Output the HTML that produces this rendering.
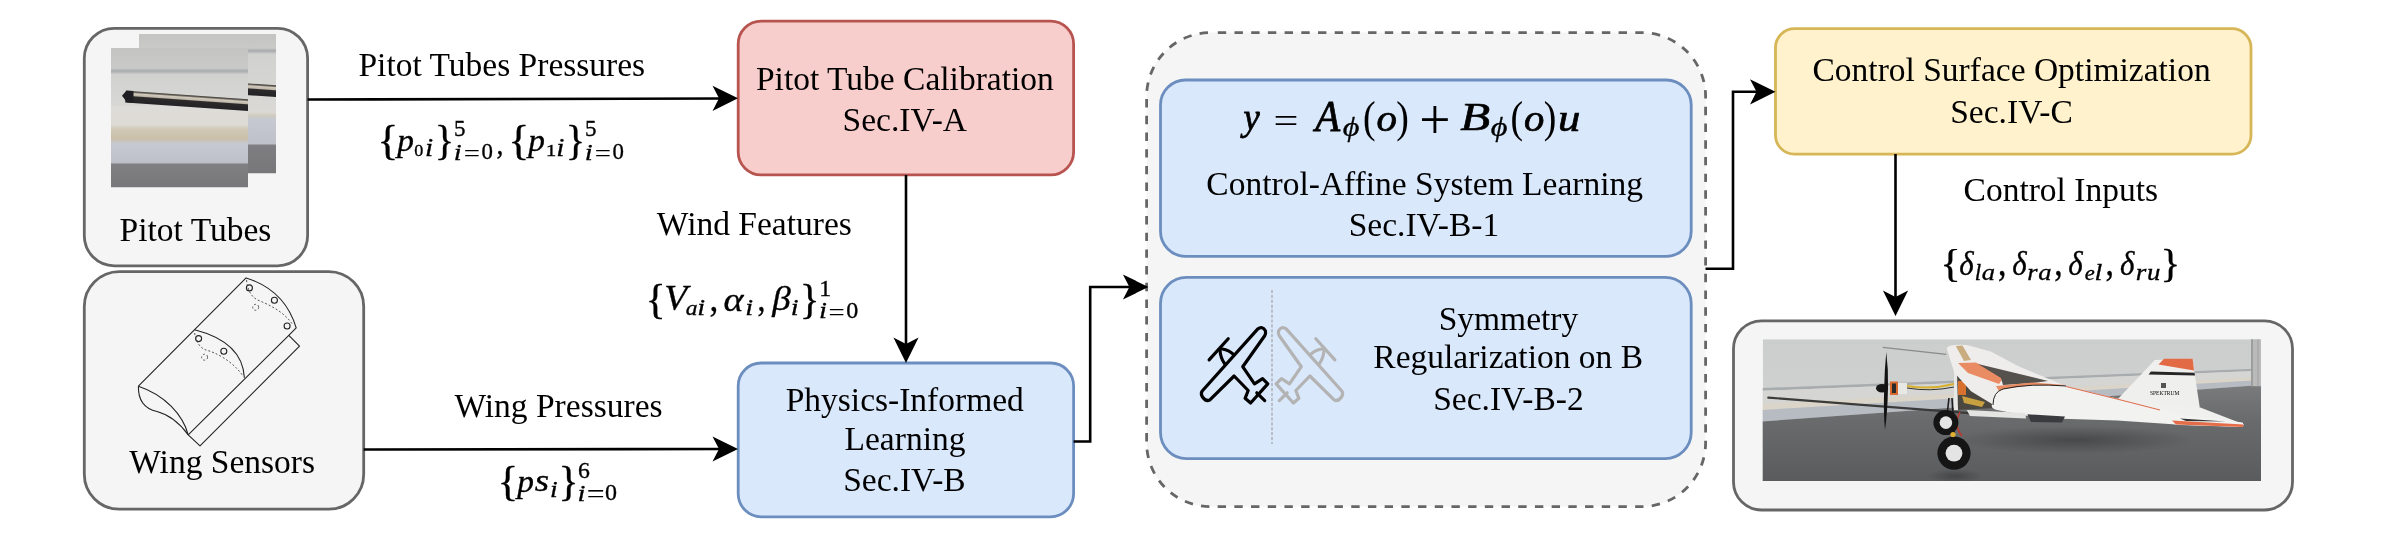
<!DOCTYPE html><html><head><meta charset="utf-8"><style>
html,body{margin:0;padding:0;background:#fff;overflow:hidden;}
svg{display:block;will-change:transform;}
text{font-family:"Liberation Serif",serif;fill:#000;}
.t{font-size:33.5px;}
</style></head><body>
<svg width="2393" height="543" viewBox="0 0 2393 543">

<defs>
<clipPath id="cpF"><rect x="0" y="0" width="137" height="139.5"/></clipPath>
<clipPath id="cpP"><rect x="1762.7" y="339.2" width="498.3" height="141.8"/></clipPath>
<linearGradient id="pitbg" x1="0" y1="0" x2="0" y2="1">
 <stop offset="0" stop-color="#c4c5c3"/>
 <stop offset="0.145" stop-color="#c9cac8"/>
 <stop offset="0.165" stop-color="#a8aaad"/>
 <stop offset="0.19" stop-color="#d1d2d0"/>
 <stop offset="0.41" stop-color="#d7d7d4"/>
 <stop offset="0.42" stop-color="#dedcd8"/>
 <stop offset="0.55" stop-color="#dedbd5"/>
 <stop offset="0.58" stop-color="#d2c9b6"/>
 <stop offset="0.65" stop-color="#c9bfa9"/>
 <stop offset="0.685" stop-color="#c6c9d0"/>
 <stop offset="0.82" stop-color="#bec1ca"/>
 <stop offset="0.835" stop-color="#808082"/>
 <stop offset="1" stop-color="#77777a"/>
</linearGradient>
<linearGradient id="tubeg" x1="0" y1="0" x2="0" y2="1">
 <stop offset="0" stop-color="#3e3b36"/>
 <stop offset="0.10" stop-color="#6a655c"/>
 <stop offset="0.20" stop-color="#d2cbbd"/>
 <stop offset="0.38" stop-color="#bfb8aa"/>
 <stop offset="0.47" stop-color="#2c2a2a"/>
 <stop offset="1" stop-color="#232225"/>
</linearGradient>

<linearGradient id="pitbg2" x1="0" y1="0" x2="0" y2="1">
 <stop offset="0" stop-color="#c4c5c3"/>
 <stop offset="0.10" stop-color="#c9cac8"/>
 <stop offset="0.12" stop-color="#a8aaad"/>
 <stop offset="0.145" stop-color="#d1d2d0"/>
 <stop offset="0.36" stop-color="#d5d5d2"/>
 <stop offset="0.56" stop-color="#dad9d5"/>
 <stop offset="0.585" stop-color="#cfcbbf"/>
 <stop offset="0.61" stop-color="#c6c9d0"/>
 <stop offset="0.785" stop-color="#bec1ca"/>
 <stop offset="0.80" stop-color="#7e7e80"/>
 <stop offset="1" stop-color="#77777a"/>
</linearGradient>

<linearGradient id="wallg" x1="0" y1="0" x2="0" y2="1">
 <stop offset="0" stop-color="#cbcecd"/>
 <stop offset="1" stop-color="#d4d6d5"/>
</linearGradient>
<linearGradient id="floorg" x1="0" y1="0" x2="0" y2="1">
 <stop offset="0" stop-color="#797b7c"/>
 <stop offset="0.35" stop-color="#696b6c"/>
 <stop offset="1" stop-color="#595b5d"/>
</linearGradient>
<radialGradient id="shad" cx="0.5" cy="0.5" r="0.5">
 <stop offset="0" stop-color="#3a3c3e" stop-opacity="0.7"/>
 <stop offset="1" stop-color="#3a3c3e" stop-opacity="0"/>
</radialGradient>
</defs>

<rect x="84.3" y="28.3" width="223.3" height="237.5" rx="30" ry="30" fill="#f5f5f5" stroke="#666666" stroke-width="2.8" />
<rect x="84.3" y="271.6" width="279.4" height="237.6" rx="35" ry="35" fill="#f5f5f5" stroke="#666666" stroke-width="2.8" />
<rect x="738.2" y="21.1" width="335.4" height="153.8" rx="23" ry="23" fill="#f8cecc" stroke="#b85450" stroke-width="2.8" />
<rect x="738.2" y="363" width="335.4" height="153.8" rx="23" ry="23" fill="#dae8fc" stroke="#6c8ebf" stroke-width="2.8" />
<rect x="1146.6" y="32.6" width="559" height="474" rx="64" ry="64" fill="#f5f5f5" stroke="#666666" stroke-width="2.8" stroke-dasharray="8.4 8.3" stroke-dashoffset="9.5"/>
<rect x="1160.5" y="80" width="530.7" height="176.3" rx="25" ry="25" fill="#dae8fc" stroke="#6c8ebf" stroke-width="2.8" />
<rect x="1160.5" y="277.3" width="530.7" height="181.3" rx="26" ry="26" fill="#dae8fc" stroke="#6c8ebf" stroke-width="2.8" />
<rect x="1775.5" y="28.7" width="475.5" height="125.5" rx="19" ry="19" fill="#fff2cc" stroke="#d6b656" stroke-width="2.8" />
<rect x="1733.5" y="320.8" width="559" height="189.2" rx="28" ry="28" fill="#f5f5f5" stroke="#666666" stroke-width="2.8" />
<!-- pitot photos -->
<g transform="translate(139,34)" clip-path="url(#cpF)">
 <rect x="0" y="0" width="137" height="139.5" fill="url(#pitbg2)"/>
 <rect x="15" y="42.7" width="126" height="11.8" fill="url(#tubeg)" transform="rotate(4.03 15 42.7)"/>
</g>
<g transform="translate(111,48)" clip-path="url(#cpF)">
 <rect x="0" y="0" width="137" height="139.5" fill="url(#pitbg)"/>
 <rect x="15" y="42.7" width="126" height="11.8" fill="url(#tubeg)" transform="rotate(4.03 15 42.7)"/>
 <path d="M11,47.8 L15.5,42.6 L22.5,43.1 L22.5,54.8 L16,54.2 Z" fill="#1f1e22"/>
</g>
<!-- wing sensor drawing -->
<g fill="none" stroke="#222" stroke-width="1.1" stroke-linejoin="round">
 <path d="M138.4,386.2 L246.1,277.9 Q284.85,290.1 296.2,327.9 L288.8,335.4 L188.2,434.8"/>
 <path d="M138.4,386.2 C165,395 183,415 188.2,434.8"/>
 <path d="M138.4,386.2 C138,402 146,409 157,411.5 C170,415 181,425 188.2,434.8"/>
 <path d="M188.2,434.8 L200,445.8 L299.5,346.2 L288.8,335.4"/>
 <path d="M194.6,329.7 Q242.7,342.05 244.4,377.8"/>
 <circle cx="249.4" cy="287.9" r="3"/><circle cx="274.4" cy="300.3" r="3"/><circle cx="287.1" cy="326" r="3"/>
 <circle cx="198.6" cy="338.6" r="3"/><circle cx="223.8" cy="351.2" r="3"/>
</g>
<g fill="none" stroke="#444" stroke-width="0.9" stroke-dasharray="2 2">
 <circle cx="255.7" cy="307.3" r="3"/><circle cx="204.6" cy="357.2" r="3"/>
 <path d="M246.5,280 C248,292 252,298 260,301 C272,306 285,313 293,325"/>
 <path d="M194.6,333 C196,342 200,348 206,350 C214,352 232,360 243,376"/>
</g>
<!-- airplane icons -->
<g id="plane1" fill="none" stroke="#000" stroke-width="3.2" stroke-linejoin="round" stroke-linecap="round">
 <path d="M1202.0,391.2 L1257.6,329.1 Q1262.5,325.5 1265.5,331 Q1266,334 1264.7,335.7 L1242.7,366.7 L1254.5,383.9 L1262.6,378.7 L1267.8,383.9 L1250.6,403.0 L1245.1,398.3 L1248.2,390.5 L1234.1,376.0 L1209.9,399.8 Q1206,402 1202.5,397 Q1200.5,394 1202,391.2 Z"/>
 <path d="M1256.8,392.8 L1264.7,400.6"/>
 <path d="M1209.1,359.9 L1228.2,338.8"/>
 <path d="M1220,350.5 Q1220.5,358 1224.7,363.8 M1222.4,349 Q1229,350 1233.4,354.4"/>
</g>
<g transform="translate(2544,0) scale(-1,1)" fill="none" stroke="#b3b3b3" stroke-width="3.2" stroke-linejoin="round" stroke-linecap="round">
 <path d="M1202.0,391.2 L1257.6,329.1 Q1262.5,325.5 1265.5,331 Q1266,334 1264.7,335.7 L1242.7,366.7 L1254.5,383.9 L1262.6,378.7 L1267.8,383.9 L1250.6,403.0 L1245.1,398.3 L1248.2,390.5 L1234.1,376.0 L1209.9,399.8 Q1206,402 1202.5,397 Q1200.5,394 1202,391.2 Z"/>
 <path d="M1256.8,392.8 L1264.7,400.6"/>
 <path d="M1209.1,359.9 L1228.2,338.8"/>
 <path d="M1220,350.5 Q1220.5,358 1224.7,363.8 M1222.4,349 Q1229,350 1233.4,354.4"/>
</g>
<path d="M1272,290 L1272,444" stroke="#aaaaaa" stroke-width="1.3" stroke-dasharray="3.2 1.7"/>
<!-- plane photo -->
<g clip-path="url(#cpP)">
 <rect x="1762.7" y="339.2" width="498.3" height="141.8" fill="url(#wallg)"/>
 <path d="M1762,388 L2262,368.5 L2262,370.8 L1762,390.8Z" fill="#a9acae"/>
 <path d="M1762,390.8 L2262,370.8 L2262,377 L1762,404Z" fill="#d5d6d3"/>
 <path d="M1762,404 L2262,377 L2262,380 L1762,410Z" fill="#dad5c8"/>
 <path d="M1762,410 L2262,380 L2262,385 L1762,421.5Z" fill="#b7bbc2"/>
 <path d="M1762,421.5 L2262,385 L2262,482 L1762,482Z" fill="url(#floorg)"/>
 <rect x="2251" y="339.2" width="10" height="47" fill="#b9bab9"/>
 <path d="M2252,339 L2252,386" stroke="#8a8b8b" stroke-width="1.2"/>
 <path d="M2258,339 L2258,386" stroke="#a0a1a1" stroke-width="1"/>
 <!-- shadows -->
 <ellipse cx="2075" cy="440" rx="120" ry="14" fill="url(#shad)"/>
 <ellipse cx="1955" cy="476" rx="28" ry="7" fill="url(#shad)"/>
 <!-- pitot boom -->
 <path d="M1768.3,397.6 L1969,413.2" stroke="#3b3b3b" stroke-width="2.2" stroke-linecap="round"/>
 <path d="M1882.8,347.4 L1946.3,354.3" stroke="#8a8a88" stroke-width="1.3"/>
 <!-- fuselage pod -->
 <path d="M1954,370 L1992,385 L1995,408 L1956,410 Z" fill="#4a4640"/>
 <path d="M1954,372 L1957,372 L1958,410 L1954,410Z" fill="#e8e8e6"/>
 <rect x="1958" y="381" width="8" height="14" fill="#d8702e"/>
 <path d="M1962,396 L1985,402 L1982,407 L1964,403Z" fill="#c8a040"/>
 <!-- far wing -->
 <path d="M1946.6,347.9 Q1950,344 1966.8,345.1 L1990.8,351.6 L2018.4,366.3 L2066,386 L2002,389.5 L1992,404 L1971,391.3 L1954.2,372.5 Z" fill="#eeedec"/>
 <path d="M1955.8,346 L1962.5,345.5 L1971,360 L1964,361 Z" fill="#c9ad80"/>
 <path d="M1958,363 L1976,362.5 L2004,377 L1999,384 L1968,373 Z" fill="#ea8c63"/>
 <path d="M1978,364 L2048,381 L2033,383 L2003,385 L2001,378 Z" fill="#55514c"/>
 <path d="M1996,386 L2033,382.5 L2066,385 L2040,389.5 L2000,393 Z" fill="#ea8c63"/>
 <!-- tail fin -->
 <path d="M2117.2,399.7 L2154.8,360 L2192.4,358.8 L2199.7,407 L2145,408 Z" fill="#efefee"/>
 <path d="M2158.5,364.5 L2164,358.8 L2192.6,358.8 L2194,370.5 Z" fill="#e26a45"/>
 <path d="M2151,371.5 L2194.5,372.8 L2195,375.5 L2148.5,374.5 Z" fill="#262626"/>
 <text x="2150" y="395" font-size="5.5" font-family="Liberation Sans" fill="#444">SPEKTRUM</text>
 <rect x="2161" y="383" width="5" height="5" fill="#555"/>
 <!-- stabilizer -->
 <path d="M2120,404 L2199,407 L2243.6,424.2 L2242.6,427 L2180,425 L2130,418 Z" fill="#f0f0ef"/>
 <!-- near wing -->
 <path d="M1991.8,404.9 Q1993,392 2002.3,389.2 L2033.6,385 L2065,386.1 L2117.2,398.6 L2180,414.3 L2242.6,422.6 L2243.6,424.7 L2242.6,426.8 L2180,424.7 L2117.2,420.5 L2054.5,418.5 L2023.2,415.3 L1997,410 Q1991,408.5 1991.8,404.9 Z" fill="#f2f2f1"/>
 <path d="M1993,405 Q1993,392 2003,389 Q2030,383 2066,386" stroke="#222" stroke-width="1" fill="none"/>
 <path d="M2066,386.5 L2117,399 L2160,410" stroke="#e07050" stroke-width="1.2" fill="none"/>
 <path d="M2172,420.5 L2243.6,424.4 L2242.6,427 L2176,424.5 Z" fill="#e46c48"/>
 <path d="M2180,418.5 L2226,421.5 L2186,421 Z" fill="#333"/>
 <!-- under body -->
 <path d="M2027.4,414.3 L2065,416.5 L2062,422.6 L2031,422 Z" fill="#3a3b3e"/>
 <path d="M1966.8,410.1 L2025.3,413 L2026,418.5 L1970,416 Z" fill="#e4e4e2"/>
 <!-- gear -->
 <path d="M1949,398 L1946,424 M1952,398 L1955,450" stroke="#1e1e1e" stroke-width="1.6"/>
 <path d="M1960,412 Q1953,425 1962,436" stroke="#c0392b" stroke-width="1.5" fill="none"/>
 <circle cx="1945.9" cy="422.6" r="12.5" fill="#151515"/>
 <circle cx="1945.9" cy="422.6" r="6.3" fill="#e4e4e4"/>
 <circle cx="1954" cy="453.2" r="16.6" fill="#151515"/>
 <circle cx="1954" cy="453.2" r="8.4" fill="#e4e4e4"/>
 <circle cx="1953" cy="434.5" r="2.6" fill="#e0b030"/>
 <!-- motor/prop -->
 <path d="M1907,386 Q1930,390 1954,384" stroke="#d8b030" stroke-width="2" fill="none"/>
 <path d="M1907,388 Q1930,392 1954,387" stroke="#333" stroke-width="1" fill="none"/>
 <rect x="1898" y="383" width="9" height="11" fill="#e8e8e4"/>
 <rect x="1890" y="381.5" width="8" height="13.5" fill="#d86a30"/>
 <rect x="1892" y="383.5" width="4" height="9.5" fill="#2a2a2a"/>
 <ellipse cx="1882" cy="388.2" rx="6" ry="4.2" fill="#151515"/>
 <path d="M1886.3,352 Q1888.5,370 1888,388 Q1887.5,412 1885,430 Q1883.3,412 1884.2,388 Q1884.5,370 1886.3,352 Z" fill="#121212"/>
</g>

<path d="M307.6,99.5 L725,98.5" fill="none" stroke="#000" stroke-width="2.6" stroke-linejoin="miter"/>
<path d="M738.0,98.3 L712.5,85.7 L719.0,98.3 L712.5,110.9Z" fill="#000"/>
<path d="M363.7,449.5 L725,449" fill="none" stroke="#000" stroke-width="2.6" stroke-linejoin="miter"/>
<path d="M738.0,449.0 L712.5,436.4 L719.0,449.0 L712.5,461.6Z" fill="#000"/>
<path d="M906,175 L906,350" fill="none" stroke="#000" stroke-width="2.6" stroke-linejoin="miter"/>
<path d="M906.0,363.0 L918.6,337.5 L906.0,344.0 L893.4,337.5Z" fill="#000"/>
<path d="M1073.6,441.5 L1090.2,441.5 L1090.2,287 L1137,287" fill="none" stroke="#000" stroke-width="2.6" stroke-linejoin="miter"/>
<path d="M1148.4,287.0 L1122.9,274.4 L1129.4,287.0 L1122.9,299.6Z" fill="#000"/>
<path d="M1705.5,268.7 L1733,268.7 L1733,91.8 L1763,91.8" fill="none" stroke="#000" stroke-width="2.6" stroke-linejoin="miter"/>
<path d="M1775.5,91.8 L1750.0,79.2 L1756.5,91.8 L1750.0,104.4Z" fill="#000"/>
<path d="M1895.5,154 L1895.5,303" fill="none" stroke="#000" stroke-width="2.6" stroke-linejoin="miter"/>
<path d="M1895.5,316.0 L1908.1,290.5 L1895.5,297.0 L1882.9,290.5Z" fill="#000"/>
<text x="501.8" y="75.9" class="t" text-anchor="middle">Pitot Tubes Pressures</text>
<text x="195.5" y="241.1" class="t" text-anchor="middle">Pitot Tubes</text>
<text x="222.2" y="473.1" class="t" text-anchor="middle">Wing Sensors</text>
<text x="904.9" y="89.9" class="t" text-anchor="middle">Pitot Tube Calibration</text>
<text x="904.8" y="131" class="t" text-anchor="middle">Sec.IV-A</text>
<text x="754.35" y="234.8" class="t" text-anchor="middle">Wind Features</text>
<text x="558.55" y="416.6" class="t" text-anchor="middle">Wing Pressures</text>
<text x="904.75" y="410.7" class="t" text-anchor="middle">Physics-Informed</text>
<text x="905" y="449.5" class="t" text-anchor="middle">Learning</text>
<text x="904.45" y="490.9" class="t" text-anchor="middle">Sec.IV-B</text>
<text x="1424.7" y="195.2" class="t" text-anchor="middle">Control-Affine System Learning</text>
<text x="1423.95" y="236.4" class="t" text-anchor="middle">Sec.IV-B-1</text>
<text x="1508.45" y="330" class="t" text-anchor="middle">Symmetry</text>
<text x="1508.2" y="368.1" class="t" text-anchor="middle">Regularization on B</text>
<text x="1508.45" y="409.8" class="t" text-anchor="middle">Sec.IV-B-2</text>
<text x="2011.6" y="80.9" class="t" text-anchor="middle">Control Surface Optimization</text>
<text x="2011.5" y="122.9" class="t" text-anchor="middle">Sec.IV-C</text>
<text x="2060.8" y="200.9" class="t" text-anchor="middle">Control Inputs</text>
<text transform="matrix(0.44000,0,0,0.41212,377.14,153.54)" font-size="100" font-style="normal" font-weight="normal" stroke="#000" stroke-width="0.82">{</text>
<text transform="matrix(0.33396,0,0,0.32059,397.30,150.87)" font-size="100" font-style="italic" font-weight="normal" stroke="#000" stroke-width="1.07">p</text>
<text transform="matrix(0.18095,0,0,0.17185,414.28,155.83)" font-size="100" font-style="normal" font-weight="normal" stroke="#000" stroke-width="1.98">0</text>
<text transform="matrix(0.29455,0,0,0.24545,425.08,156.00)" font-size="100" font-style="italic" font-weight="normal" stroke="#000" stroke-width="1.30">i</text>
<text transform="matrix(0.40667,0,0,0.41212,434.64,153.54)" font-size="100" font-style="normal" font-weight="normal" stroke="#000" stroke-width="0.85">}</text>
<text transform="matrix(0.23000,0,0,0.22857,454.12,136.07)" font-size="100" font-style="normal" font-weight="normal" stroke="#000" stroke-width="1.53">5</text>
<text transform="matrix(0.28545,0,0,0.23788,453.77,159.60)" font-size="100" font-style="italic" font-weight="normal" stroke="#000" stroke-width="1.34">i</text>
<text transform="matrix(0.28800,0,0,0.24000,463.66,160.92)" font-size="100" font-style="normal" font-weight="normal" stroke="#000" stroke-width="0.19">=</text>
<text transform="matrix(0.22857,0,0,0.23259,481.49,159.37)" font-size="100" font-style="normal" font-weight="normal" stroke="#000" stroke-width="1.52">0</text>
<text transform="matrix(0.44000,0,0,0.41212,508.14,153.54)" font-size="100" font-style="normal" font-weight="normal" stroke="#000" stroke-width="0.82">{</text>
<text transform="matrix(0.33396,0,0,0.32059,528.30,150.87)" font-size="100" font-style="italic" font-weight="normal" stroke="#000" stroke-width="1.07">p</text>
<text transform="matrix(0.21252,0,0,0.17710,545.77,156.00)" font-size="100" font-style="normal" font-weight="normal" stroke="#000" stroke-width="1.80">1</text>
<text transform="matrix(0.29455,0,0,0.24545,556.33,156.00)" font-size="100" font-style="italic" font-weight="normal" stroke="#000" stroke-width="1.30">i</text>
<text transform="matrix(0.40667,0,0,0.41212,565.64,153.54)" font-size="100" font-style="normal" font-weight="normal" stroke="#000" stroke-width="0.85">}</text>
<text transform="matrix(0.23000,0,0,0.22857,585.12,136.07)" font-size="100" font-style="normal" font-weight="normal" stroke="#000" stroke-width="1.53">5</text>
<text transform="matrix(0.28545,0,0,0.23788,584.77,159.60)" font-size="100" font-style="italic" font-weight="normal" stroke="#000" stroke-width="1.34">i</text>
<text transform="matrix(0.28800,0,0,0.24000,594.66,160.92)" font-size="100" font-style="normal" font-weight="normal" stroke="#000" stroke-width="0.19">=</text>
<text transform="matrix(0.22857,0,0,0.23259,612.49,159.37)" font-size="100" font-style="normal" font-weight="normal" stroke="#000" stroke-width="1.52">0</text>
<text transform="matrix(0.27586,0,0,0.29412,496.50,154.09)" font-size="100" font-style="normal" font-weight="normal" stroke="#000" stroke-width="1.23">,</text>
<text transform="matrix(0.42000,0,0,0.41333,645.62,312.72)" font-size="100" font-style="normal" font-weight="normal" stroke="#000" stroke-width="0.84">{</text>
<text transform="matrix(0.37538,0,0,0.36692,664.14,310.35)" font-size="100" font-style="italic" font-weight="normal" stroke="#000" stroke-width="0.94">V</text>
<text transform="matrix(0.23488,0,0,0.21042,685.70,314.79)" font-size="100" font-style="italic" font-weight="normal" stroke="#000" stroke-width="1.57">a</text>
<text transform="matrix(0.28364,0,0,0.23636,697.35,315.00)" font-size="100" font-style="italic" font-weight="normal" stroke="#000" stroke-width="1.35">i</text>
<text transform="matrix(0.35172,0,0,0.38039,709.39,311.19)" font-size="100" font-style="normal" font-weight="normal" stroke="#000" stroke-width="0.96">,</text>
<text transform="matrix(0.38039,0,0,0.34583,723.46,311.05)" font-size="100" font-style="italic" font-weight="normal" stroke="#000" stroke-width="0.96">α</text>
<text transform="matrix(0.28364,0,0,0.23636,745.25,315.00)" font-size="100" font-style="italic" font-weight="normal" stroke="#000" stroke-width="1.35">i</text>
<text transform="matrix(0.31724,0,0,0.36078,757.43,311.49)" font-size="100" font-style="normal" font-weight="normal" stroke="#000" stroke-width="1.03">,</text>
<text transform="matrix(0.37059,0,0,0.33770,772.16,309.81)" font-size="100" font-style="italic" font-weight="normal" stroke="#000" stroke-width="0.99">β</text>
<text transform="matrix(0.28364,0,0,0.23636,790.85,315.00)" font-size="100" font-style="italic" font-weight="normal" stroke="#000" stroke-width="1.35">i</text>
<text transform="matrix(0.41333,0,0,0.41333,799.68,312.72)" font-size="100" font-style="normal" font-weight="normal" stroke="#000" stroke-width="0.85">}</text>
<text transform="matrix(0.23714,0,0,0.23206,819.17,295.70)" font-size="100" font-style="normal" font-weight="normal" stroke="#000" stroke-width="1.49">1</text>
<text transform="matrix(0.28545,0,0,0.23788,818.92,318.30)" font-size="100" font-style="italic" font-weight="normal" stroke="#000" stroke-width="1.34">i</text>
<text transform="matrix(0.28800,0,0,0.24000,828.61,320.42)" font-size="100" font-style="normal" font-weight="normal" stroke="#000" stroke-width="0.19">=</text>
<text transform="matrix(0.24048,0,0,0.23259,846.14,318.07)" font-size="100" font-style="normal" font-weight="normal" stroke="#000" stroke-width="1.48">0</text>
<text transform="matrix(0.43333,0,0,0.41212,497.40,494.54)" font-size="100" font-style="normal" font-weight="normal" stroke="#000" stroke-width="0.83">{</text>
<text transform="matrix(0.33396,0,0,0.32059,517.30,491.87)" font-size="100" font-style="italic" font-weight="normal" stroke="#000" stroke-width="1.07">p</text>
<text transform="matrix(0.36750,0,0,0.30625,534.71,491.19)" font-size="100" font-style="italic" font-weight="normal" stroke="#000" stroke-width="1.04">s</text>
<text transform="matrix(0.27636,0,0,0.23030,550.10,496.50)" font-size="100" font-style="italic" font-weight="normal" stroke="#000" stroke-width="1.38">i</text>
<text transform="matrix(0.42000,0,0,0.41212,558.62,494.54)" font-size="100" font-style="normal" font-weight="normal" stroke="#000" stroke-width="0.84">}</text>
<text transform="matrix(0.23765,0,0,0.23433,578.03,477.57)" font-size="100" font-style="normal" font-weight="normal" stroke="#000" stroke-width="1.48">6</text>
<text transform="matrix(0.28545,0,0,0.23788,577.62,500.60)" font-size="100" font-style="italic" font-weight="normal" stroke="#000" stroke-width="1.34">i</text>
<text transform="matrix(0.31680,0,0,0.26400,586.85,503.01)" font-size="100" font-style="normal" font-weight="normal" stroke="#000" stroke-width="0.17">=</text>
<text transform="matrix(0.24048,0,0,0.23259,605.04,500.37)" font-size="100" font-style="normal" font-weight="normal" stroke="#000" stroke-width="1.48">0</text>
<text transform="matrix(0.36604,0,0,0.38358,1243.61,130.45)" font-size="100" font-style="italic" font-weight="normal" stroke="#000" stroke-width="2.00">y</text>
<text transform="matrix(0.44160,0,0,0.36800,1273.42,132.94)" font-size="100" font-style="normal" font-weight="normal" stroke="#000" stroke-width="0.12">=</text>
<text transform="matrix(0.40746,0,0,0.43511,1315.34,130.90)" font-size="100" font-style="italic" font-weight="normal" stroke="#000" stroke-width="1.78">A</text>
<text transform="matrix(0.32340,0,0,0.27514,1342.79,136.22)" font-size="100" font-style="italic" font-weight="normal" stroke="#000" stroke-width="1.17">ϕ</text>
<text transform="matrix(0.37778,0,0,0.44444,1362.88,131.67)" font-size="100" font-style="normal" font-weight="normal" stroke="#000" stroke-width="0.12">(</text>
<text transform="matrix(0.40909,0,0,0.37292,1376.47,130.53)" font-size="100" font-style="italic" font-weight="normal" stroke="#000" stroke-width="1.92">o</text>
<text transform="matrix(0.37778,0,0,0.44444,1396.31,131.67)" font-size="100" font-style="normal" font-weight="normal" stroke="#000" stroke-width="0.12">)</text>
<text transform="matrix(0.55484,0,0,0.56087,1419.23,139.31)" font-size="100" font-style="normal" font-weight="normal" stroke="#000" stroke-width="0.09">+</text>
<text transform="matrix(0.48916,0,0,0.40763,1460.28,130.40)" font-size="100" font-style="italic" font-weight="normal" stroke="#000" stroke-width="1.67">B</text>
<text transform="matrix(0.32340,0,0,0.27514,1490.69,136.22)" font-size="100" font-style="italic" font-weight="normal" stroke="#000" stroke-width="1.17">ϕ</text>
<text transform="matrix(0.37778,0,0,0.44444,1510.58,131.67)" font-size="100" font-style="normal" font-weight="normal" stroke="#000" stroke-width="0.12">(</text>
<text transform="matrix(0.40682,0,0,0.37292,1523.98,130.53)" font-size="100" font-style="italic" font-weight="normal" stroke="#000" stroke-width="1.92">o</text>
<text transform="matrix(0.37778,0,0,0.44444,1543.76,131.67)" font-size="100" font-style="normal" font-weight="normal" stroke="#000" stroke-width="0.12">)</text>
<text transform="matrix(0.44681,0,0,0.37234,1558.09,130.53)" font-size="100" font-style="italic" font-weight="normal" stroke="#000" stroke-width="1.83">u</text>
<text transform="matrix(0.43000,0,0,0.40727,1940.23,277.30)" font-size="100" font-style="normal" font-weight="normal" stroke="#000" stroke-width="0.84">{</text>
<text transform="matrix(0.31011,0,0,0.33901,1959.37,274.66)" font-size="100" font-style="italic" font-weight="normal" stroke="#000" stroke-width="1.08">δ</text>
<text transform="matrix(0.23000,0,0,0.24058,1974.64,280.10)" font-size="100" font-style="italic" font-weight="normal" stroke="#000" stroke-width="1.49">l</text>
<text transform="matrix(0.26500,0,0,0.22083,1981.86,279.88)" font-size="100" font-style="italic" font-weight="normal" stroke="#000" stroke-width="1.44">a</text>
<text transform="matrix(0.33667,0,0,0.39608,1997.91,275.46)" font-size="100" font-style="normal" font-weight="normal" stroke="#000" stroke-width="0.96">,</text>
<text transform="matrix(0.31011,0,0,0.33901,2012.27,274.66)" font-size="100" font-style="italic" font-weight="normal" stroke="#000" stroke-width="1.08">δ</text>
<text transform="matrix(0.26286,0,0,0.22796,2027.35,280.21)" font-size="100" font-style="italic" font-weight="normal" stroke="#000" stroke-width="1.43">r</text>
<text transform="matrix(0.26500,0,0,0.22083,2038.26,279.88)" font-size="100" font-style="italic" font-weight="normal" stroke="#000" stroke-width="1.44">a</text>
<text transform="matrix(0.33667,0,0,0.39608,2054.26,275.46)" font-size="100" font-style="normal" font-weight="normal" stroke="#000" stroke-width="0.96">,</text>
<text transform="matrix(0.31011,0,0,0.34043,2068.37,274.66)" font-size="100" font-style="italic" font-weight="normal" stroke="#000" stroke-width="1.08">δ</text>
<text transform="matrix(0.22564,0,0,0.21875,2084.72,279.78)" font-size="100" font-style="italic" font-weight="normal" stroke="#000" stroke-width="1.58">e</text>
<text transform="matrix(0.28000,0,0,0.23913,2094.46,280.00)" font-size="100" font-style="italic" font-weight="normal" stroke="#000" stroke-width="1.35">l</text>
<text transform="matrix(0.33667,0,0,0.39608,2105.61,275.46)" font-size="100" font-style="normal" font-weight="normal" stroke="#000" stroke-width="0.96">,</text>
<text transform="matrix(0.31011,0,0,0.34043,2119.97,274.66)" font-size="100" font-style="italic" font-weight="normal" stroke="#000" stroke-width="1.08">δ</text>
<text transform="matrix(0.27097,0,0,0.22581,2135.77,280.11)" font-size="100" font-style="italic" font-weight="normal" stroke="#000" stroke-width="1.41">r</text>
<text transform="matrix(0.26809,0,0,0.22340,2146.90,279.78)" font-size="100" font-style="italic" font-weight="normal" stroke="#000" stroke-width="1.42">u</text>
<text transform="matrix(0.41333,0,0,0.40727,2160.48,277.30)" font-size="100" font-style="normal" font-weight="normal" stroke="#000" stroke-width="0.85">}</text>
</svg></body></html>
